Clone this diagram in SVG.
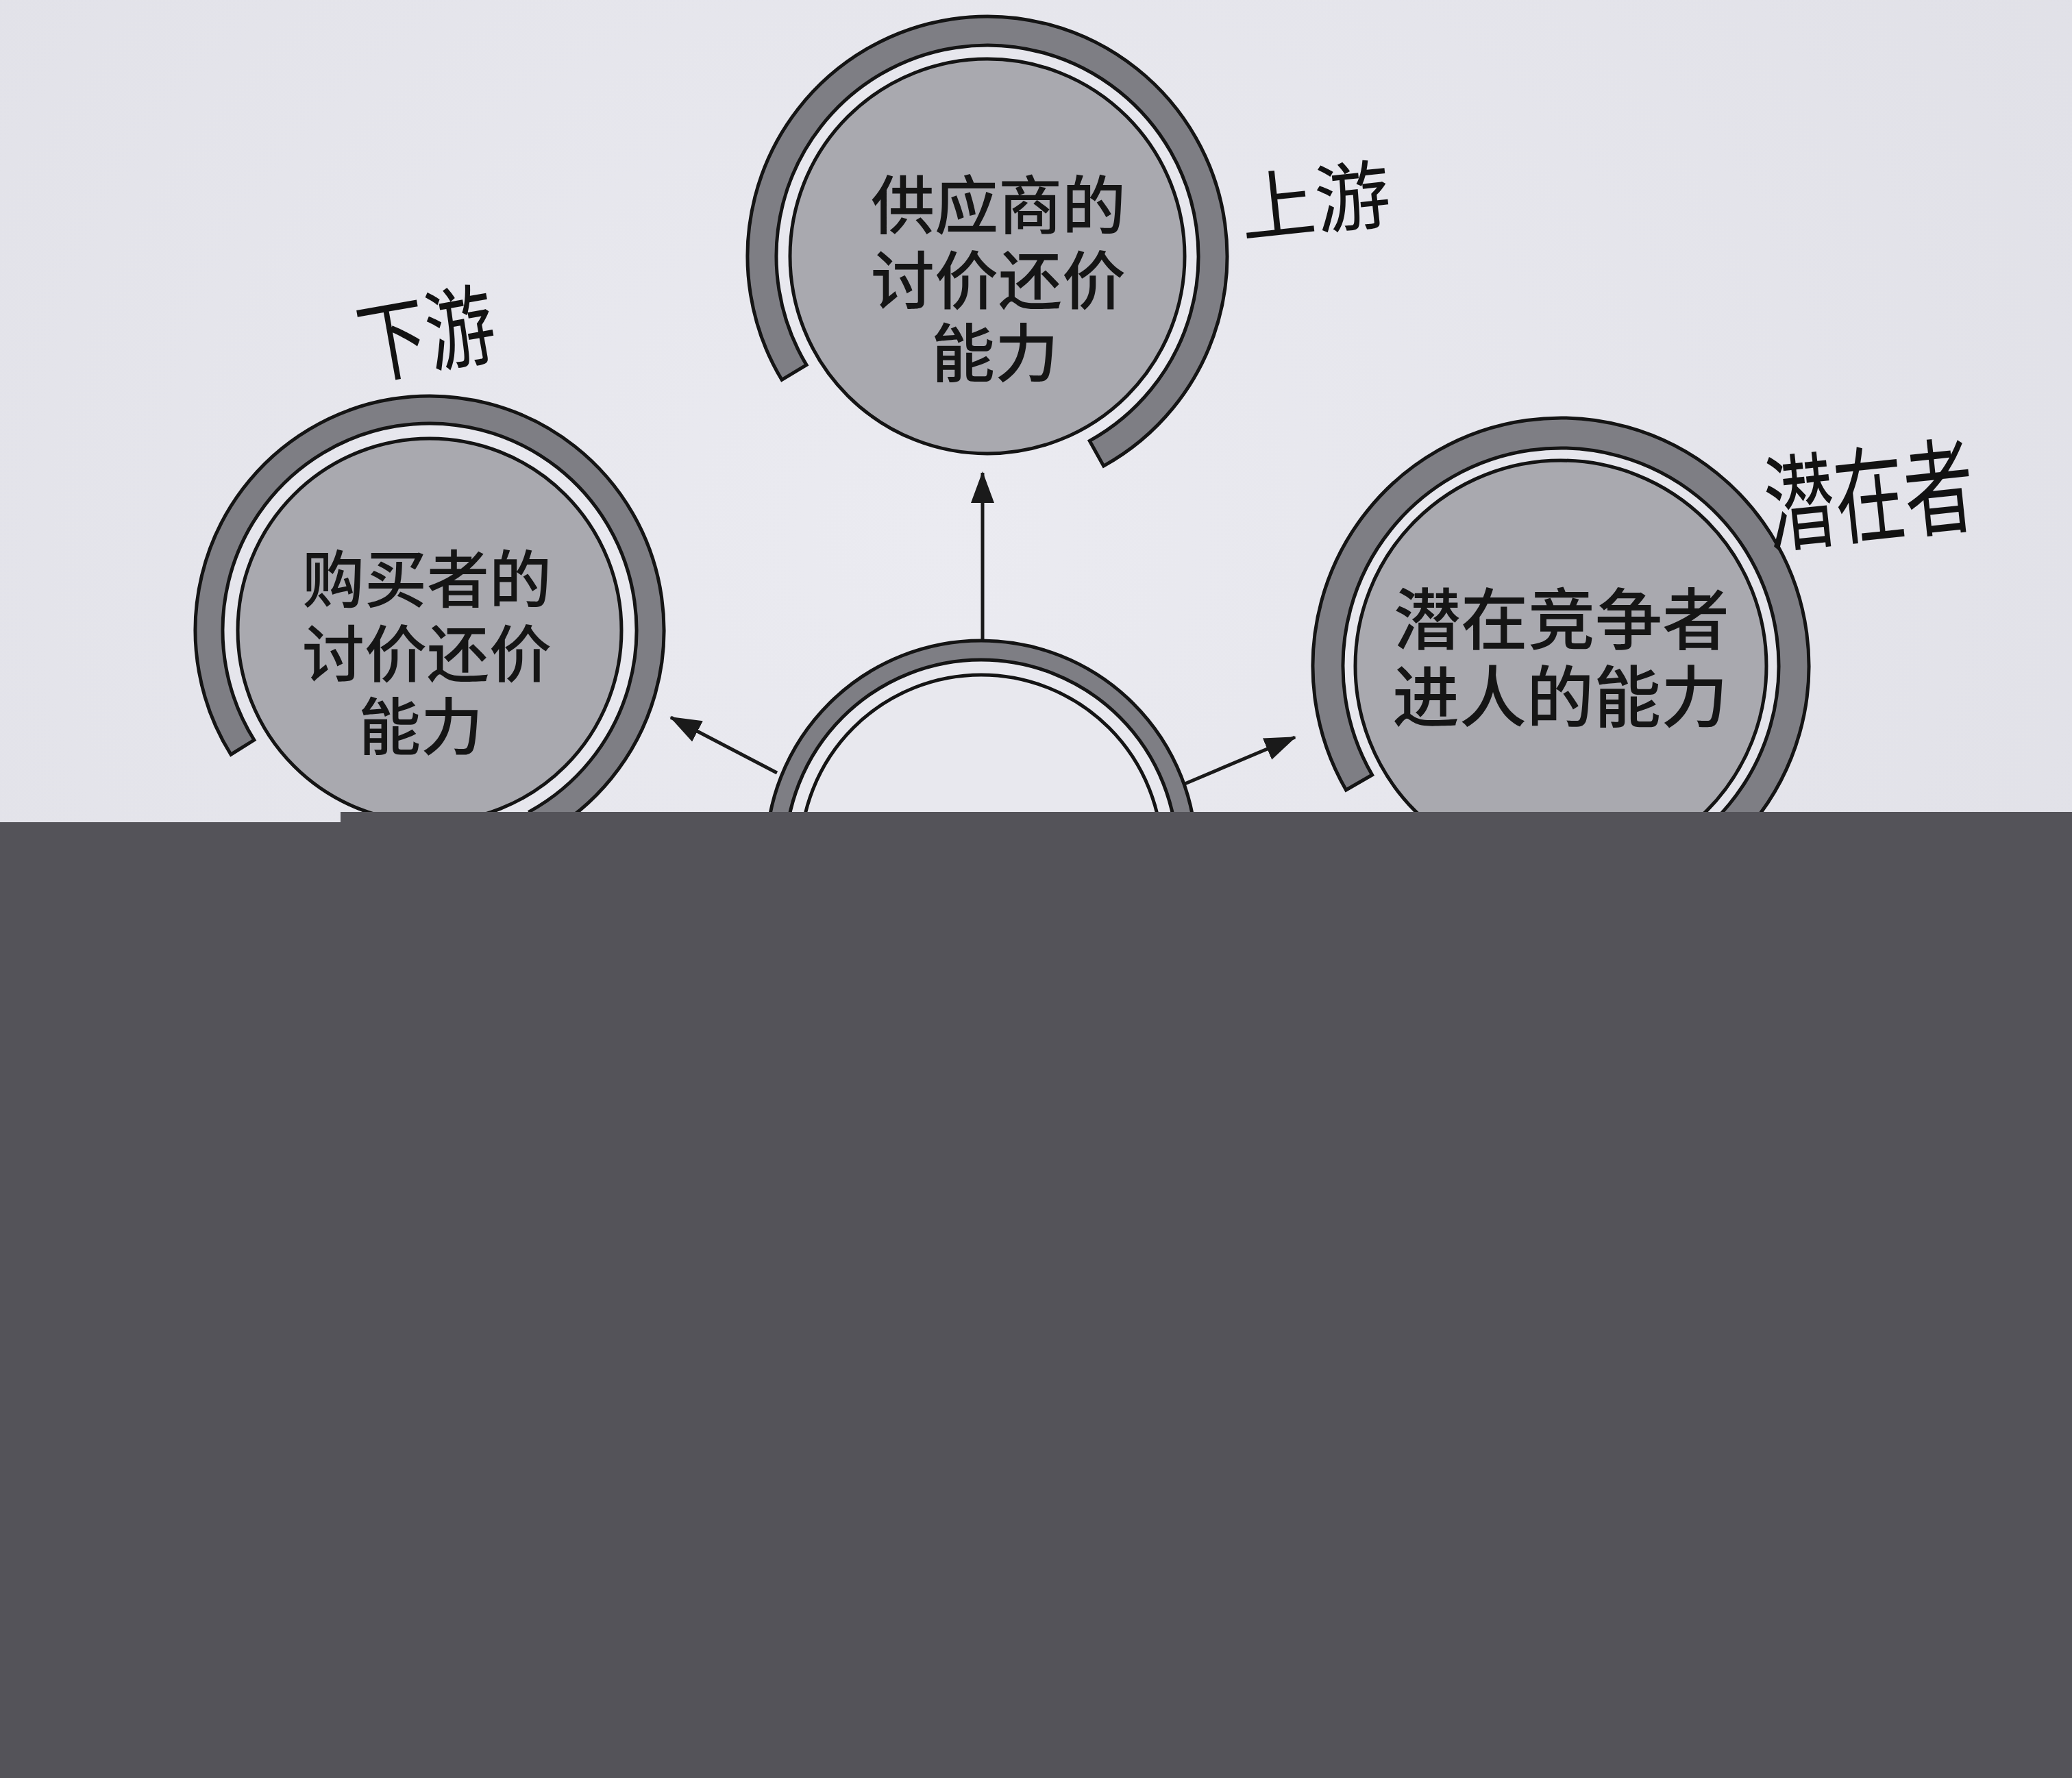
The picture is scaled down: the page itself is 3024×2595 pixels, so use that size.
<svg xmlns="http://www.w3.org/2000/svg" width="3024" height="2595" viewBox="0 0 3024 2595">
<defs>
<style>
.ring{fill:#7e7e84;stroke:#141414;stroke-width:5;stroke-linejoin:miter}
.core{fill:#a9a9af;stroke:#141414;stroke-width:5}
.plain{fill:#e8e8ee;stroke:#141414;stroke-width:5}
.lbl{font-family:"Noto Sans CJK SC","Noto Sans",sans-serif;fill:#151515;text-anchor:middle;font-weight:500}
.hand{font-family:"Noto Sans CJK SC","Noto Sans",sans-serif;fill:#121212;font-weight:400}
.conn{stroke:#1a1a1a;stroke-width:5;fill:none;marker-end:url(#ah)}
</style>
<marker id="ah" viewBox="0 0 46 34" markerWidth="46" markerHeight="34" markerUnits="userSpaceOnUse" refX="44" refY="17" orient="auto">
<path d="M0,0 L46,17 L0,34 Z" fill="#1a1a1a"/>
</marker>
<radialGradient id="paper" cx="0.45" cy="0.3" r="0.8">
<stop offset="0" stop-color="#ebebf1"/>
<stop offset="1" stop-color="#dedee5"/>
</radialGradient>
</defs>
<rect x="0" y="0" width="3024" height="2595" fill="url(#paper)"/>

<g id="connectors">
<line class="conn" x1="1434" y1="935" x2="1434" y2="690"/>
<line class="conn" x1="1134" y1="1128" x2="979" y2="1047"/>
<line class="conn" x1="1722" y1="1147" x2="1890" y2="1076"/>
</g>

<g id="node-supplier">
<path class="ring" d="M1141.0,554.3 A350,350 0 1 1 1610.7,680.1 L1590.3,643.4 A308,308 0 1 0 1177.0,532.6 Z"/>
<circle class="core" cx="1441" cy="374" r="288"/>
<text class="lbl" font-size="93" x="1457"><tspan x="1457" y="334">供应商的</tspan><tspan x="1457" y="444">讨价还价</tspan><tspan x="1452" y="550">能力</tspan></text>
</g>

<g id="node-buyer">
<path class="ring" d="M337.0,1101.2 A342,342 0 1 1 792.8,1219.1 L773.4,1184.1 A302,302 0 1 0 370.9,1080.0 Z"/>
<circle class="core" cx="627" cy="920" r="280"/>
<text class="lbl" font-size="91" x="623"><tspan x="623" y="879">购买者的</tspan><tspan x="623" y="988">讨价还价</tspan><tspan x="614" y="1094">能力</tspan></text>
</g>

<g id="node-entrant">
<path class="ring" d="M1964.5,1153 A362,362 0 1 1 2453.5,1288.6 L2432.2,1250.1 A318,318 0 1 0 2002.6,1131 Z"/>
<circle class="core" cx="2278" cy="972" r="300"/>
<text class="lbl" font-size="98" x="2279"><tspan x="2279" y="940">潜在竞争者</tspan><tspan x="2277" y="1053">进人的能力</tspan></text>
</g>

<g id="node-center">
<circle class="ring" cx="1432" cy="1249" r="314"/>
<circle class="plain" cx="1432" cy="1249" r="286" stroke-width="4"/>
<circle class="plain" cx="1432" cy="1249" r="264"/>
</g>

<g id="annotations">
<text class="hand" font-size="110" transform="translate(1814,345) rotate(-6)">上游</text>
<text class="hand" font-size="100" transform="translate(532,552) rotate(-10) scale(1,1.3)">下游</text>
<text class="hand" font-size="102" transform="translate(2582,795) rotate(-6) scale(1,1.5)">潜在者</text>
</g>

<g id="cover">
<rect x="0" y="1200" width="500" height="1395" fill="#545359"/>
<rect x="497" y="1185" width="2527" height="1410" fill="#545359"/>
</g>
</svg>
